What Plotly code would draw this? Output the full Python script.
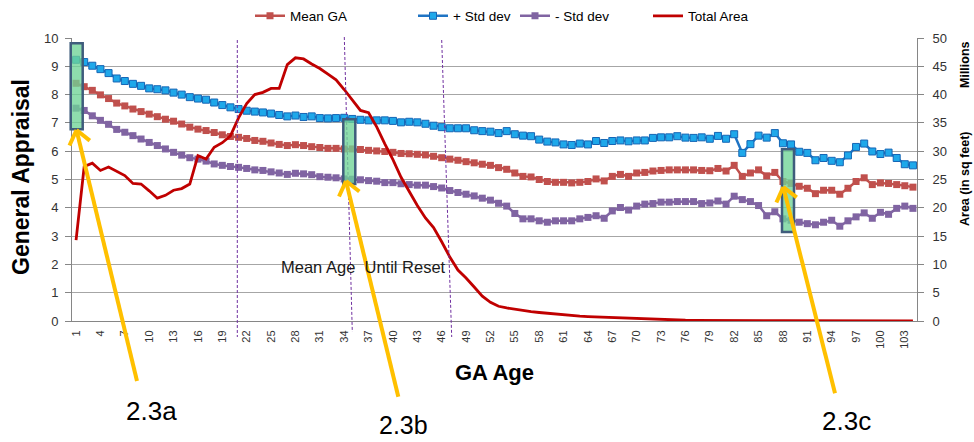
import numpy as np
import plotly.graph_objects as go

# ---------------- data ----------------
ages = list(range(1, 105))

mean_ga = [8.40, 8.28, 8.15, 7.99, 7.86, 7.70, 7.60, 7.49, 7.40, 7.31,
           7.22, 7.13, 7.06, 6.96, 6.85, 6.78, 6.73, 6.66, 6.58, 6.52,
           6.49, 6.45, 6.38, 6.35, 6.29, 6.24, 6.20, 6.23, 6.20, 6.16,
           6.13, 6.10, 6.10, 6.08, 6.08, 6.06, 6.03, 6.01, 5.99, 5.96,
           5.92, 5.91, 5.89, 5.87, 5.82, 5.77, 5.72, 5.68, 5.63, 5.59,
           5.54, 5.50, 5.42, 5.36, 5.23, 5.11, 5.09, 5.00, 4.93, 4.90,
           4.90, 4.88, 4.90, 4.93, 5.02, 4.95, 5.11, 5.18, 5.11, 5.23,
           5.25, 5.30, 5.32, 5.34, 5.34, 5.34, 5.34, 5.32, 5.31, 5.39,
           5.30, 5.50, 5.11, 5.23, 5.34, 5.13, 5.25, 4.93, 4.86, 4.76,
           4.69, 4.50, 4.62, 4.62, 4.48, 4.69, 4.93, 5.06, 4.82, 4.88,
           4.86, 4.82, 4.78, 4.73]

plus_std = [9.23, 9.15, 9.02, 8.90, 8.76, 8.57, 8.48, 8.38, 8.31, 8.22,
            8.19, 8.15, 8.07, 8.00, 7.91, 7.86, 7.82, 7.72, 7.63, 7.55,
            7.49, 7.43, 7.40, 7.37, 7.33, 7.28, 7.23, 7.26, 7.21, 7.23,
            7.17, 7.16, 7.17, 7.18, 7.14, 7.11, 7.09, 7.09, 7.09, 7.07,
            7.02, 7.04, 7.02, 6.97, 6.90, 6.85, 6.81, 6.81, 6.81, 6.74,
            6.71, 6.69, 6.64, 6.71, 6.60, 6.55, 6.53, 6.41, 6.34, 6.31,
            6.24, 6.22, 6.27, 6.24, 6.36, 6.29, 6.36, 6.38, 6.35, 6.38,
            6.38, 6.47, 6.49, 6.49, 6.53, 6.48, 6.47, 6.49, 6.44, 6.54,
            6.44, 6.60, 5.94, 6.25, 6.55, 6.48, 6.64, 6.28, 6.24, 5.98,
            5.94, 5.68, 5.76, 5.66, 5.61, 5.85, 6.15, 6.27, 5.99, 5.90,
            5.95, 5.76, 5.54, 5.50]

minus_std = [7.52, 7.44, 7.25, 7.09, 6.95, 6.77, 6.67, 6.55, 6.43, 6.31,
             6.20, 6.08, 5.96, 5.86, 5.77, 5.72, 5.65, 5.55, 5.50, 5.46,
             5.43, 5.39, 5.34, 5.32, 5.27, 5.23, 5.18, 5.22, 5.20, 5.17,
             5.10, 5.08, 5.06, 5.02, 5.01, 4.99, 4.96, 4.94, 4.89, 4.89,
             4.85, 4.82, 4.80, 4.80, 4.75, 4.70, 4.61, 4.54, 4.48, 4.42,
             4.34, 4.27, 4.16, 4.06, 3.80, 3.61, 3.61, 3.54, 3.49, 3.54,
             3.54, 3.54, 3.61, 3.66, 3.72, 3.63, 3.89, 4.01, 3.92, 4.06,
             4.13, 4.15, 4.20, 4.20, 4.22, 4.22, 4.22, 4.15, 4.17, 4.24,
             4.13, 4.41, 4.29, 4.22, 4.08, 3.72, 3.86, 3.61, 3.56, 3.49,
             3.44, 3.40, 3.49, 3.56, 3.35, 3.54, 3.68, 3.82, 3.63, 3.84,
             3.77, 3.98, 4.06, 3.98]

total_area_millions = [14.3, 27.3, 27.9, 26.6, 27.2, 26.5, 25.7, 24.3, 24.2, 23.0,
                       21.7, 22.2, 23.1, 23.4, 24.2, 29.2, 28.6, 30.7, 31.5, 32.7,
                       35.9, 38.4, 40.0, 40.4, 41.1, 41.1, 45.3, 46.5, 46.3, 45.4,
                       44.6, 43.6, 42.6, 40.9, 39.0, 37.2, 36.8, 34.3, 31.3, 28.5,
                       25.4, 22.8, 20.4, 18.2, 16.5, 14.0, 11.3, 9.0, 7.6, 6.0,
                       4.4, 3.3, 2.6, 2.3, 2.05, 1.85, 1.65, 1.5, 1.35, 1.2,
                       1.05, 0.95, 0.85, 0.78, 0.72, 0.68, 0.6, 0.58, 0.5, 0.4,
                       0.32, 0.25, 0.2, 0.17, 0.15, 0.13, 0.11, 0.09, 0.07, 0.06,
                       0.05, 0.05, 0.05, 0.05, 0.04, 0.04, 0.04, 0.04, 0.04, 0.03,
                       0.03, 0.03, 0.03, 0.03, 0.03, 0.03, 0.03, 0.02, 0.02, 0.02,
                       0.02, 0.02, 0.02, 0.02]

x_tick_values = list(range(1, 104, 3))
x_tick_labels = [str(v) for v in x_tick_values]
left_ticks = list(range(0, 11))
right_ticks = list(range(0, 51, 5))

# ---------------- geometry helpers ----------------
W, H = 974, 442
L, R, T, B = 72, 57, 38, 121
PW = W - L - R
PH = H - T - B


def px(xp):
    return (xp - L) / PW


def py(yp):
    return (H - B - yp) / PH


FONT = "Liberation Sans, Arial, sans-serif"

fig = go.Figure()

fig.add_trace(go.Scatter(
    x=ages, y=mean_ga, name="Mean GA", mode="lines+markers",
    line=dict(color="#C0504D", width=2.5),
    marker=dict(symbol="square", size=7, color="#C0504D"),
    legend="legend"))
fig.add_trace(go.Scatter(
    x=ages, y=plus_std, name="+ Std dev", mode="lines+markers",
    line=dict(color="#1F74C4", width=2.5),
    marker=dict(symbol="square", size=7, color="#1EA8EA",
                line=dict(color="#1565B5", width=1)),
    legend="legend2"))
fig.add_trace(go.Scatter(
    x=ages, y=minus_std, name="- Std dev", mode="lines+markers",
    line=dict(color="#8064A2", width=2.5),
    marker=dict(symbol="square", size=7, color="#8064A2"),
    legend="legend3"))
fig.add_trace(go.Scatter(
    x=ages, y=total_area_millions, name="Total Area", mode="lines",
    yaxis="y2", line=dict(color="#C00000", width=2.8),
    legend="legend4"))

shapes = []
# dashed purple reference lines
for (xt, yt, xb, yb) in [(237.3, 40, 237.3, 337), (344.3, 37, 352.3, 332), (441.7, 40, 451.7, 337)]:
    shapes.append(dict(type="line", xref="paper", yref="paper",
                       x0=px(xt), y0=py(yt), x1=px(xb), y1=py(yb),
                       line=dict(color="#7030A0", width=1, dash="3px,2px")))

# green highlight boxes
for (x0, y0, x1, y1) in [(70.7, 43.3, 82.7, 129.3), (343.3, 119.3, 355.3, 184), (782, 149.3, 794, 232)]:
    shapes.append(dict(type="rect", xref="paper", yref="paper",
                       x0=px(x0), y0=py(y0), x1=px(x1), y1=py(y1),
                       fillcolor="rgba(110,212,150,0.78)",
                       line=dict(color="#3F5C7C", width=2.5)))

# yellow arrows
ARROW = "#FFC000"
for (tx, ty, hx, hy) in [(137, 381, 76.5, 130), (398.3, 396.7, 346, 181), (835, 393.3, 783.3, 187)]:
    shapes.append(dict(type="line", xref="paper", yref="paper",
                       x0=px(tx), y0=py(ty), x1=px(hx), y1=py(hy),
                       line=dict(color=ARROW, width=4)))
    d = np.array([tx - hx, ty - hy], dtype=float)
    d /= np.linalg.norm(d)
    for ang in (np.radians(38), -np.radians(38)):
        rot = np.array([[np.cos(ang), -np.sin(ang)], [np.sin(ang), np.cos(ang)]])
        b = rot @ d * 17
        shapes.append(dict(type="line", xref="paper", yref="paper",
                           x0=px(hx), y0=py(hy), x1=px(hx + b[0]), y1=py(hy + b[1]),
                           line=dict(color=ARROW, width=4)))

annotations = []


def add_text(text, xp, yp, size, angle=0, color="#000000"):
    annotations.append(dict(text=text, xref="paper", yref="paper",
                            x=px(xp), y=py(yp), xanchor="center", yanchor="middle",
                            showarrow=False, textangle=angle,
                            font=dict(family=FONT, size=size, color=color)))


add_text("Mean Age\u00a0 Until Reset", 363.5, 266.7, 16.5, color="#1A1A1A")
add_text("2.3a", 151, 411, 26)
add_text("2.3b", 403, 425, 25)
add_text("2.3c", 846, 421, 26)
add_text("<b>General Appraisal</b>", 21, 177, 23, angle=-90)
add_text("<b>GA Age</b>", 494, 372, 22)
add_text("<b>Millions</b>", 965, 65, 12.5, angle=-90)
add_text("<b>Area (in sq feet)</b>", 965, 179, 12.5, angle=-90)

leg = dict(orientation="h", yanchor="middle", y=py(16), xanchor="left",
           font=dict(family=FONT, size=13.5, color="#000000"),
           bgcolor="rgba(0,0,0,0)", borderwidth=0)

fig.update_layout(
    width=W, height=H,
    margin=dict(l=L, r=R, t=T, b=B, autoexpand=False),
    paper_bgcolor="white", plot_bgcolor="white",
    font=dict(family=FONT, color="#333333"),
    showlegend=True,
    legend=dict(x=px(250), **leg),
    legend2=dict(x=px(413), **leg),
    legend3=dict(x=px(515), **leg),
    legend4=dict(x=px(648), **leg),
    xaxis=dict(range=[0.5, 104.5], tickmode="array", tickvals=x_tick_values,
               ticktext=x_tick_labels, tickangle=-90,
               tickfont=dict(family=FONT, size=11, color="#333333"),
               showline=True, linecolor="#868686", linewidth=1,
               showgrid=False, zeroline=False, ticks="", ticklabelstandoff=4),
    yaxis=dict(range=[0, 10], tickmode="array", tickvals=left_ticks,
               showgrid=True, gridcolor="#A6A6A6", gridwidth=1,
               showline=True, linecolor="#868686", linewidth=1,
               ticks="outside", ticklen=6, tickcolor="#868686",
               tickfont=dict(family=FONT, size=13, color="#333333"),
               zeroline=False, ticklabelstandoff=4),
    yaxis2=dict(range=[0, 50], tickmode="array", tickvals=right_ticks,
                overlaying="y", side="right", showgrid=False,
                showline=True, linecolor="#868686", linewidth=1,
                ticks="outside", ticklen=6, tickcolor="#868686",
                tickfont=dict(family=FONT, size=13, color="#333333"),
                zeroline=False, ticklabelstandoff=6),
    shapes=shapes,
    annotations=annotations,
)

fig.write_html("out.html", config={"displayModeBar": False},
               post_script="document.body.style.margin='0';document.body.style.overflow='hidden';")
